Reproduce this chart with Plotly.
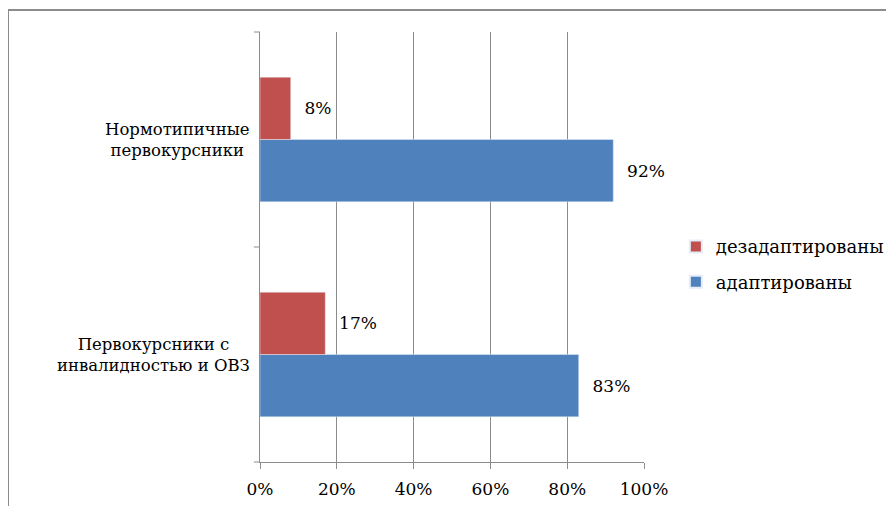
import plotly.graph_objects as go

categories = ["Первокурсники с<br>инвалидностью и ОВЗ", "Нормотипичные<br>первокурсники"]
adapted = [83, 92]
maladapted = [17, 8]
series_names = ["адаптированы", "дезадаптированы"]
tick_vals = [0, 20, 40, 60, 80, 100]
tick_text = ["0%", "20%", "40%", "60%", "80%", "100%"]

FONT = "DejaVu Serif"
FS = 17
PAD = "\u00a0\u00a0"

fig = go.Figure()
fig.add_trace(go.Bar(
    y=categories, x=adapted, name=series_names[0], orientation="h",
    marker=dict(color="#4F81BD"), legendgroup="a", legendrank=2,
    text=[f"{PAD}{v}%" for v in adapted], textposition="outside",
    textfont=dict(family=FONT, size=FS, color="#000"), cliponaxis=False,
))
fig.add_trace(go.Bar(
    y=categories, x=maladapted, name=series_names[1], orientation="h",
    marker=dict(color="#C0504D"), legendgroup="b", legendrank=1,
    text=[f"{PAD}{v}%" for v in maladapted], textposition="outside",
    textfont=dict(family=FONT, size=FS, color="#000"), cliponaxis=False,
))

annotations = [
    dict(x=-0.022, y=c, xref="paper", yref="y", text=c, showarrow=False,
         xanchor="right", yanchor="middle", align="center",
         font=dict(family=FONT, size=16.5, color="#000"))
    for c in categories
]

fig.update_layout(
    width=894, height=506,
    margin=dict(l=252, r=258, t=24, b=52, autoexpand=False),
    paper_bgcolor="white", plot_bgcolor="white",
    barmode="group", bargap=0.42, bargroupgap=0,
    font=dict(family=FONT, size=FS, color="#000"),
    showlegend=True,
    legend=dict(x=1.083, y=0.46, xanchor="left", yanchor="middle",
                traceorder="grouped", font=dict(family=FONT, size=18),
                itemsizing="constant", tracegroupgap=9),
    xaxis=dict(range=[0, 100], tickvals=tick_vals, ticktext=tick_text,
               showgrid=True, gridcolor="#8c8c8c", gridwidth=1,
               showline=True, linecolor="#8c8c8c", linewidth=1,
               ticks="outside", ticklen=6, tickcolor="#8c8c8c",
               ticklabelstandoff=6,
               zeroline=False, tickfont=dict(family=FONT, size=FS)),
    yaxis=dict(showline=True, linecolor="#8c8c8c", linewidth=1,
               ticks="", showgrid=False, zeroline=False, showticklabels=False),
    annotations=annotations,
    shapes=[
        dict(type="rect", xref="paper", yref="paper",
             x0=-0.65625, x1=1.7, y0=-0.13, y1=1.0512,
             line=dict(color="#8c8c8c", width=2), fillcolor="rgba(0,0,0,0)", layer="below"),
        dict(type="line", xref="paper", yref="paper", x0=-0.016, x1=0, y0=1, y1=1,
             line=dict(color="#8c8c8c", width=1)),
        dict(type="line", xref="paper", yref="paper", x0=-0.016, x1=0, y0=0.5, y1=0.5,
             line=dict(color="#8c8c8c", width=1)),
        dict(type="line", xref="paper", yref="paper", x0=-0.016, x1=0, y0=0, y1=0,
             line=dict(color="#8c8c8c", width=1)),
    ],
)

fig.write_html("out.html")
